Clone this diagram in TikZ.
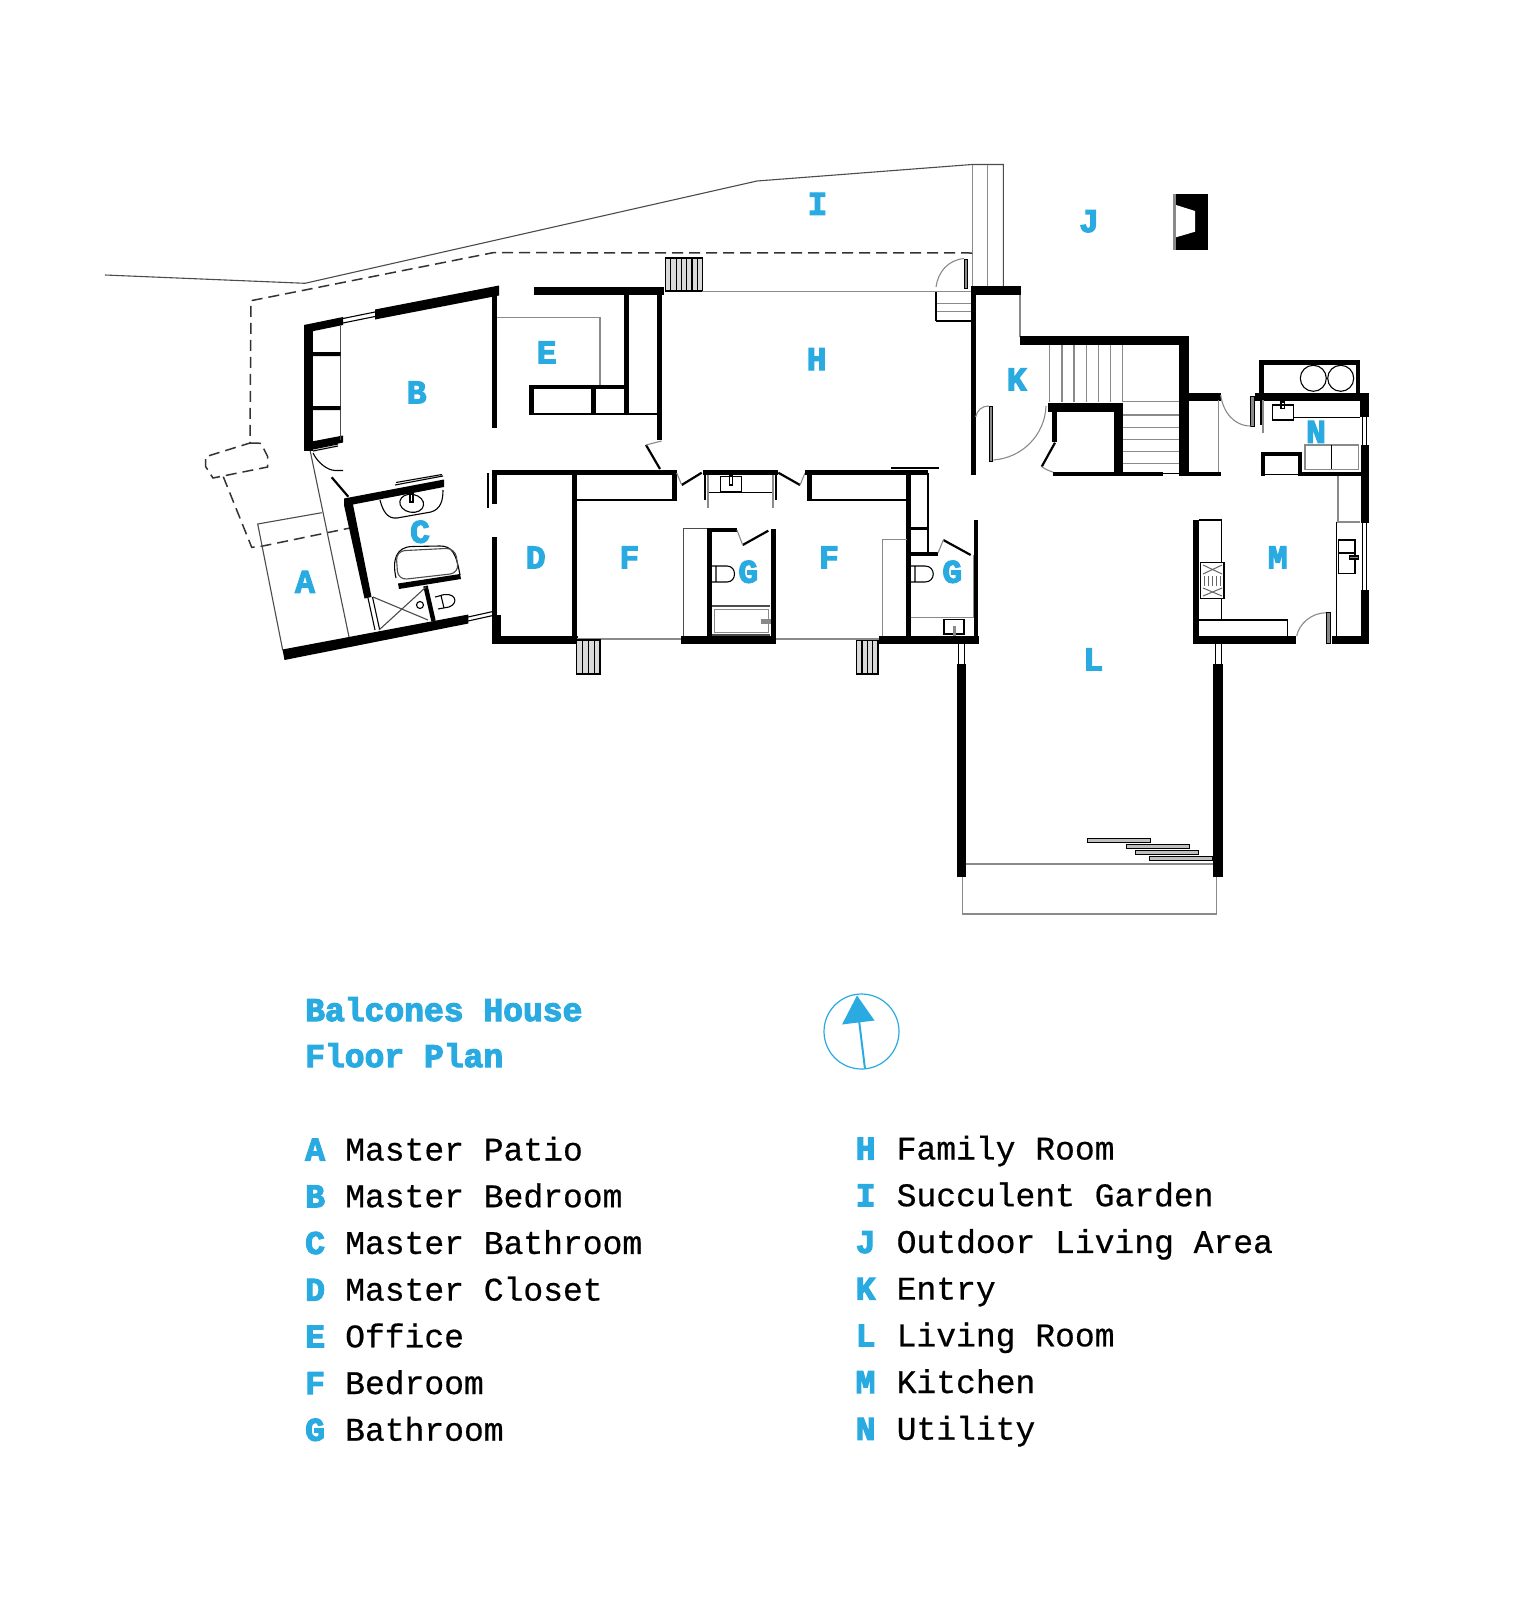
\documentclass[tikz,border=0pt]{standalone}
\usepackage{fontspec}
\setmainfont{Liberation Mono}
\newfontfamily\bluefont[FakeBold=3.5]{Liberation Mono Bold}
\newfontfamily\bodyfont[FakeBold=0.6]{Liberation Mono}
\definecolor{planblue}{HTML}{29ABE2}
\definecolor{planGray}{HTML}{8A8A8A}
\tikzset{
  wall/.style={fill=black,draw=none},
  hair/.style={draw=planGray,line width=1.1pt},
  fine/.style={draw=black,line width=1.1pt},
  medium/.style={draw=black,line width=2.2pt},
  dashline/.style={draw=black!80,line width=1.5pt,dash pattern=on 11pt off 6pt},
  leaf/.style={draw=black,line width=.8pt,fill=planGray},
  roomlabel/.style={inner sep=0pt,anchor=center,text=planblue,font=\bluefont\fontsize{33}{33}\selectfont,text height=22pt,text depth=0pt},
  keyletter/.style={inner sep=0pt,anchor=base west,text=planblue,font=\bluefont\fontsize{33}{33}\selectfont},
  keytext/.style={inner sep=0pt,anchor=base west,text=black,font=\bodyfont\fontsize{33}{33}\selectfont},
}
\begin{document}
\begin{tikzpicture}[x=1pt,y=-1pt,line join=miter]
\useasboundingbox (0,0) rectangle (1535,1600);
\fill[white] (0,0) rectangle (1535,1600);

% --- site lines
\draw[hair,draw=black!70] (105,275) -- (305,283.3) -- (757,181) -- (972,164.5) -- (1003.3,164.5) -- (1003.3,287);
\draw[hair] (972.3,164.5) -- (972.3,287) (987.7,164.5) -- (987.7,287);
\draw[dashline] (972,253) -- (493,252.7) -- (251,300.7) -- (250,443);
\draw[dashline] (250,443) -- (261,443.3) -- (267.7,456.7) -- (267.7,467) -- (213,478) -- (205.7,466.7) -- (205.7,456.7) -- cycle;
\draw[dashline] (223.3,476.7) -- (251.7,547.3) -- (258,547) -- (350,528);
\draw[hair,draw=black!70] (321.7,512.7) -- (257.7,524) -- (282.7,650);
\draw[hair,draw=black!70] (310,450) -- (349.3,638.3);

% --- master wing, slanted walls
\fill[wall] (282.5,649.5) -- (468.3,614.5) -- (468.3,623.5) -- (284.5,660) -- cycle;
\draw[fine] (468,617) -- (493,611.5) (468,621) -- (493,615.5);
\fill[wall] (499,285.5) -- (499,295.5) -- (375,319.5) -- (375,309.5) -- cycle;
\draw[fine] (375,312) -- (343,318.5) (375,316.5) -- (343,323);
\fill[wall] (343,317) -- (343,325) -- (304,333) -- (304,325) -- cycle;
\fill[wall] (304,325) rectangle (313,451);
\fill[wall] (304,443) -- (343,435.5) -- (343,442.5) -- (304,451) -- cycle;
\draw[fine,draw=black!70] (340.7,326) -- (340.7,440);
\fill[wall] (312,352) rectangle (340.7,356) (312,406) rectangle (340.7,410);
\draw[fine] (313,451) -- (338,446) (313,449) -- (338,444);
\draw[fine] (313,453) .. controls (318,463) and (327,470) .. (335,470.5) -- (343,470.5);
\draw[medium] (331.7,477.3) -- (348.3,496.7);
\fill[wall] (492,290) rectangle (496.7,428);
\draw[hair] (497,317.3) -- (600,317.3) -- (600,385);

% --- master bath
\fill[wall] (344,498.5) -- (444,479.5) -- (444,487) -- (353,504.5) -- (371.5,597) -- (364.5,598.5) -- (344,505) -- cycle;
\draw[fine] (395,485) -- (443,476) (396,482.5) -- (442,474.5);
\draw[fine] (368,598) -- (375,630) (372.5,597) -- (379.5,629);
\draw[fine] (380,500) .. controls (383,512) and (388,519) .. (397,518) -- (431,512) .. controls (441,509) and (443,500) .. (443,490);
\draw[fine,rotate around={-10:(411.7,503.3)}] (411.7,503.3) ellipse (12 and 9);
\draw[fine] (410,494) rectangle (413,502);
% tub
\draw[fine] (396,578) .. controls (392,560) and (396,547) .. (412,546.5) -- (440,546) .. controls (452,546) and (456,553) .. (460,575);
\draw[fine,draw=black!70,rounded corners=9pt] (398,580) -- (396,551) -- (455,548) -- (459,573) -- cycle;
\fill[wall] (398,583.5) -- (460,574) -- (461,579) -- (399,589) -- cycle;
\draw[line width=4.5pt] (425.5,586) -- (433.5,621);
\draw[hair,draw=black!70] (373,597) -- (428,620) (379,630) -- (426,587);
\draw[fine] (420,605) circle (3.5);
\draw[fine] (435,597) -- (439,596) .. controls (455,590) and (460,603) .. (449,607) -- (438,609);
\draw[fine] (441,595.5) -- (444,608);

% --- master closet and corridor walls
\fill[wall] (492,470.3) rectangle (676.7,475.3);
\fill[wall] (492,472) rectangle (496.7,504);
\draw[fine] (488,473) -- (488,508);
\fill[wall] (492,536.7) rectangle (496.7,617);
\fill[wall] (492.3,615) rectangle (500.7,644);
\fill[wall] (492.3,636) rectangle (578,644);
\fill[wall] (572,473) rectangle (576.7,640);
\fill[wall] (576,499) rectangle (676.7,501);
\fill[wall] (671.5,473) rectangle (676.7,501);
\draw[hair,line width=1.5pt] (576.7,639) -- (680.7,639);

% --- louvres
\foreach \lx in {576.7,582.5,588.3,594.2}{\draw[fine,fill=black!15] (\lx,640) rectangle ++(5.8,34);}
\foreach \lx in {856.7,862,867.3,872.7}{\draw[fine,fill=black!15] (\lx,640) rectangle ++(5.3,34);}
\foreach \lx in {665.5,670.8,676.1,681.4,686.7,692,697.3}{\draw[fine,fill=black!15] (\lx,258) rectangle ++(5.3,33);}

% --- bedroom F, bath G
\fill[wall] (680.7,636) rectangle (775.7,644);
\draw[fine,draw=black!70] (683.3,636) -- (683.3,528.3) -- (710,528.3);
\fill[wall] (707,528) rectangle (711.5,636);
\fill[wall] (707,527.8) rectangle (737,532.3);
\draw[medium] (742.7,545) -- (768.3,530.7);
\draw[hair] (737,530) -- (742.7,545);
\fill[wall] (771.3,529) rectangle (775.7,636);
\draw[fine] (712,566) -- (727,566) .. controls (737,566) and (737,582) .. (727,582) -- (712,582) (716,566) -- (716,582);
\draw[fine,draw=black!70] (712.3,606) -- (770,606);
\draw[fine,draw=black!70] (712.3,635) -- (770,635);
\draw[hair,line width=1.4pt] (714.3,609.3) rectangle (768.3,632.7);
\draw[hair,line width=1.6pt,fill=planGray] (761.7,620) rectangle (770,622.7);
\draw[hair,line width=1.5pt] (775.7,639) -- (879.3,639);

% --- central vanity
\draw[medium] (681.7,485) -- (701.7,472.7);
\draw[hair] (676.7,473) -- (681.7,485);
\fill[wall] (703.3,470.3) rectangle (777.7,475);
\draw[line width=1.5pt] (708.3,492.7) -- (773.3,492.7);
\draw[fine] (720.7,476.7) rectangle (741.7,491.7);
\draw[fine] (729.3,475) rectangle (732.3,485);
\draw[fine] (705,475) -- (705,500);
\draw[hair,line width=2pt] (707.7,475) -- (707.7,508);
\draw[fine] (776,475) -- (776,500);
\draw[hair,line width=2pt] (773.3,475) -- (773.3,508);
\draw[medium] (778.3,472.7) -- (800,485);
\draw[hair] (800,485) -- (805,473);

% --- second bedroom wall, closet, bath
\fill[wall] (805,470.3) rectangle (928.3,475);
\fill[wall] (890.7,467.2) rectangle (939.3,469.2);
\fill[wall] (806.7,473) rectangle (811.5,501);
\fill[wall] (806.7,499) rectangle (906.7,501);
\fill[wall] (906,473) rectangle (910.5,636);
\draw[line width=1.8pt] (927.7,473) -- (927.7,553);
\fill[wall] (910,526.5) rectangle (926.7,530);
\fill[wall] (910,551.8) rectangle (938,556.3);
\draw[medium] (943.3,540) -- (970.7,555);
\draw[hair] (938,553) -- (943.3,540);
\fill[wall] (973.7,520) rectangle (978.3,636);
\draw[hair] (973.3,555) -- (973.3,618);
\draw[fine] (910.7,566) -- (925,566) .. controls (936,566) and (936,582) .. (925,582) -- (910.7,582) (915,566) -- (915,582);
\draw[hair] (910.5,617.7) -- (973.5,617.7);
\draw[fine] (944,619.3) rectangle (964,634);
\draw[hair,line width=2.5pt] (954.5,626) -- (954.5,636);
\draw[hair,line width=1.3pt] (906.7,539.3) -- (882.7,539.3) -- (882.7,636);
\fill[wall] (879.3,636) rectangle (979.3,644);

% --- office E
\fill[wall] (534,286.7) rectangle (663.5,295);
\fill[wall] (624,290) rectangle (628.5,413);
\fill[wall] (657,290) rectangle (661.7,440);
\fill[wall] (529,384.5) rectangle (624,389);
\fill[wall] (529,385) rectangle (534,413);
\fill[wall] (591.3,385) rectangle (595.5,413);
\draw[line width=1.5pt] (529,414) -- (658,414);
\draw[medium] (646,445) -- (660,469);
\draw[hair] (646,445) -- (661.5,441);

% --- family room edge, stairs to yard
\draw[hair,line width=1.4pt] (702,291.7) -- (972,291.7);
\draw[hair] (936,303.3) -- (972,303.3) (936,311.7) -- (972,311.7);
\draw[fine] (936,321) -- (972,321) (936,292) -- (936,321);
\draw[hair] (936,287) .. controls (938,272) and (948,260) .. (964,258.5);
\draw[leaf] (964,259.3) rectangle (967.7,288.3);

% --- entry and stairs
\fill[wall] (971,285.7) rectangle (1020.7,295);
\fill[wall] (971,287) rectangle (975.7,475);
\draw[hair,line width=1.3pt] (1020,295) -- (1020,337);
\fill[wall] (1020,336) rectangle (1188.3,345);
\fill[wall] (1179.3,336) rectangle (1189,475.5);
\fill[wall] (1188,393.3) rectangle (1220.7,400.7);
\draw[hair,line width=1.3pt] (1218.3,400) -- (1218.3,472);
\fill[wall] (1052.7,472) rectangle (1163.3,476);
\draw[line width=.9pt] (1163.3,473.5) -- (1179.3,473.5);
\fill[wall] (1179,472) rectangle (1220.7,476);
\foreach \sx in {1049.3,1062,1074,1086.7,1098.3,1110.7,1122.7}{\draw[hair] (\sx,345) -- (\sx,402);}
\foreach \sy in {401.7,415,427.3,439.3,451.7,463.3}{\draw[hair] (1123,\sy) -- (1179.3,\sy);}
\fill[wall] (1048.3,402.7) rectangle (1123.3,411.7);
\fill[wall] (1114,411) rectangle (1123.3,473);
\fill[wall] (1051.7,411) rectangle (1056.7,441.7);
\draw[medium] (1055,442.7) -- (1041.7,466.7);
\draw[hair] (1041.7,466.7) .. controls (1045,469) and (1049,471) .. (1053,472);
\draw[leaf] (989,406) rectangle (992.7,461);
\draw[hair] (975.7,417) .. controls (977,410) and (982,406) .. (989,406);
\draw[hair] (993.3,460) .. controls (1022,458) and (1045,435) .. (1046,406);

% --- fireplace
\fill[black] (1176,194) rectangle (1208.3,250);
\fill[white] (1176,205) -- (1195,211) -- (1195,231.7) -- (1176,237.3) -- cycle;
\fill[planGray] (1173.3,194) rectangle (1176,250);

% --- utility N
\fill[wall] (1259,360) rectangle (1360,365);
\fill[wall] (1259,360) rectangle (1264,393.5);
\fill[wall] (1356,360) rectangle (1360,393.5);
\draw[fine] (1313.3,378.3) circle (13) (1340.7,378.3) circle (13);
\fill[wall] (1255,393.3) rectangle (1369.3,400.7);
\fill[wall] (1360,393.3) rectangle (1369.3,417);
\draw[fine] (1362.7,417) -- (1362.7,445) (1366.7,417) -- (1366.7,445);
\fill[wall] (1360.7,445) rectangle (1369.3,523);
\draw[fine] (1362.5,523) -- (1362.5,590) (1366.7,523) -- (1366.7,590);
\fill[wall] (1360.7,590) rectangle (1369.3,644);
\fill[wall] (1331.7,635.7) rectangle (1369.3,644.3);
\draw[leaf] (1250.7,396) rectangle (1254,426);
\draw[hair] (1220.7,395) .. controls (1223,412) and (1234,426) .. (1250.7,426);
\draw[line width=2pt] (1260.7,400) -- (1260.7,425);
\draw[hair,line width=1.5pt] (1263,400) -- (1263,433);
\draw[fine] (1272.7,405) rectangle (1293.3,420);
\draw[fine] (1281,402) rectangle (1284.3,408.5);
\draw[line width=1pt] (1293,417.7) -- (1360,417.7);
\draw[hair,line width=1.6pt] (1305,445) rectangle (1358.3,469.3);
\draw[fine] (1331.7,445) -- (1331.7,469.3);
\fill[wall] (1260.7,451.7) rectangle (1301.7,456);
\fill[wall] (1260.7,452) rectangle (1265,476);
\fill[wall] (1297.7,452) rectangle (1302,476);
\draw[fine] (1265,474.5) -- (1298,474.5);
\fill[wall] (1301.7,471.7) rectangle (1360.7,476);

% --- kitchen M
\draw[hair,line width=2pt] (1337.5,476) -- (1337.5,521.5) -- (1360,521.5);
\draw[fine] (1336.7,521.5) -- (1336.7,636);
\draw[fine] (1338.3,540) rectangle (1355,573.3);
\draw[fine] (1338.3,553) -- (1355,553);
\draw[fine,fill=planGray] (1349.3,556) rectangle (1358.3,559);
\fill[wall] (1193.3,520) rectangle (1199,637);
\draw[fine] (1199,520) -- (1221.5,520) -- (1221.5,620);
\draw[fine] (1199,620) -- (1287.7,620) -- (1287.7,636);
\draw[fine,fill=white] (1200.7,562.3) rectangle (1224,598.3);
\foreach \gx in {1204,1208,1212,1216,1220}{\draw[hair,line width=1pt,draw=black!60] (\gx,576) -- (\gx,586);}
\draw[hair,line width=1pt,draw=black!60] (1203,565) -- (1222,574) (1203,574) -- (1222,565) (1203,588) -- (1222,596) (1203,596) -- (1222,588);
\fill[wall] (1192.7,635.7) rectangle (1296,644.3);
\draw[hair] (1296.7,636) .. controls (1299,624) and (1311,613) .. (1326,612.7);
\draw[leaf] (1326.7,612.7) rectangle (1330,643.3);

% --- living L
\fill[wall] (956.7,664) rectangle (966,876.7);
\fill[wall] (1213.3,664) rectangle (1222.7,876.7);
\draw[fine] (958.3,644) -- (958.3,664) (964.3,644) -- (964.3,664);
\draw[fine] (1215.3,644) -- (1215.3,664) (1221.7,644) -- (1221.7,664);
\draw[hair,line width=1.3pt] (966,864) -- (1213.3,864);
\draw[hair,line width=1.3pt] (962.3,877) -- (962.3,914) -- (1216.7,914) -- (1216.7,877);
\foreach \ax/\ay/\bx/\by in {1087.7/838.3/1150/842.3,1126.7/844.3/1189/848.3,1135.7/850/1198.3/854,1149.3/856.3/1212/860.3}{
  \draw[draw=black,line width=1pt,fill=black!25] (\ax,\ay) rectangle (\bx,\by);}

% --- room letters
\node[roomlabel] (ra) at (305,581.7) {A};
\node[roomlabel] (rb) at (416.7,392.3) {B};
\node[roomlabel] (rc) at (420,531.7) {C};
\node[roomlabel] (rd) at (535.7,557.3) {D};
\node[roomlabel] (re) at (546.7,352.3) {E};
\node[roomlabel] (rf) at (629.3,557.3) {F};
\node[roomlabel] (rff) at (829,557.3) {F};
\node[roomlabel] (rg) at (748.3,571.7) {G};
\node[roomlabel] (rgg) at (952.3,571.7) {G};
\node[roomlabel] (rh) at (816.7,359) {H};
\node[roomlabel] (ri) at (817.5,203.7) {I};
\node[roomlabel] (rj) at (1089,221) {J};
\node[roomlabel] (rk) at (1016.7,379.3) {K};
\node[roomlabel] (rl) at (1093.3,659.3) {L};
\node[roomlabel] (rm) at (1277.7,557.3) {M};
\node[roomlabel] (rn) at (1316,431.7) {N};

% --- title and north arrow
\node[keyletter] (title1) at (305,1021) {Balcones House};
\node[keyletter] (title2) at (305,1067) {Floor Plan};
\draw[planblue,line width=1.2pt] (861.5,1031.5) circle (37.5);
\draw[planblue,line width=2pt] (865,1069) -- (858.5,1016);
\fill[planblue] (857,995.5) -- (874.5,1020.5) -- (842,1024.5) -- cycle;

% --- key
\foreach \k/\t [count=\n from 0] in {A/Master Patio,B/Master Bedroom,C/Master Bathroom,D/Master Closet,E/Office,F/Bedroom,G/Bathroom}{
  \node[keyletter] (kl\n) at (305,1160.5+46.7*\n) {\k};
  \node[keytext] (kt\n) at (345,1160.5+46.7*\n) {\t};
}
\foreach \k/\t [count=\n from 0] in {H/Family Room,I/Succulent Garden,J/Outdoor Living Area,K/Entry,L/Living Room,M/Kitchen,N/Utility}{
  \node[keyletter] (ml\n) at (855.5,1159.5+46.7*\n) {\k};
  \node[keytext] (mt\n) at (896.5,1159.5+46.7*\n) {\t};
}
\end{tikzpicture}
\end{document}
